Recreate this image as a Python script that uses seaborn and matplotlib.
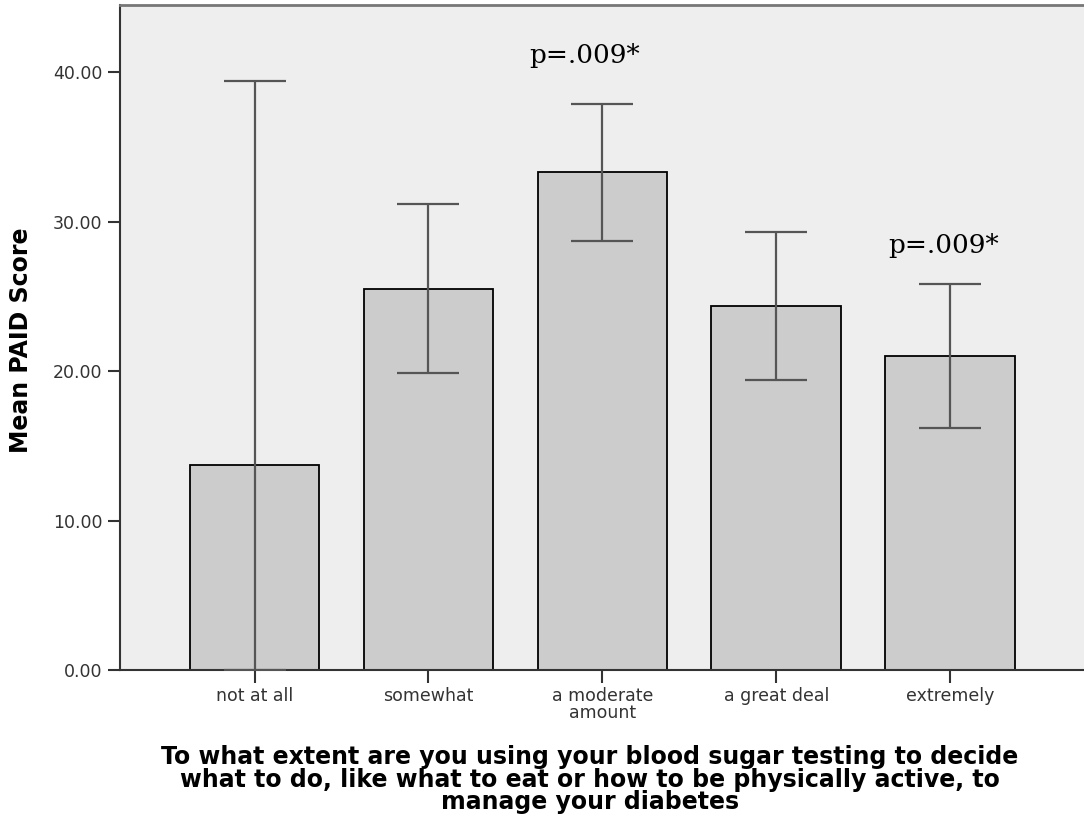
import matplotlib
matplotlib.use("Agg")
import matplotlib.pyplot as plt
import seaborn as sns
from matplotlib.ticker import FormatStrFormatter

categories = ["not at all", "somewhat", "a moderate\namount", "a great deal", "extremely"]
mean_paid = [13.7, 25.5, 33.3, 24.35, 21.0]
ci_lower = [0.0, 19.9, 28.7, 19.4, 16.2]
ci_upper = [39.4, 31.2, 37.9, 29.3, 25.8]
annot_labels = ["p=.009*", "p=.009*"]
annot_x = [1.9, 3.96]
annot_y = [41.1, 28.4]

sns.set_style("white")
plt.rcParams["font.family"] = ["DejaVu Sans"]

fig = plt.figure(figsize=(10.84, 8.24), dpi=100)
ax = fig.add_axes([0.1107, 0.1869, 0.8893, 0.807])

sns.barplot(x=categories, y=mean_paid, color="#cccccc", edgecolor="black",
            linewidth=1.3, width=0.745, saturation=1, ax=ax)

xs = list(range(len(categories)))
lower_err = [m - lo for m, lo in zip(mean_paid, ci_lower)]
upper_err = [hi - m for m, hi in zip(mean_paid, ci_upper)]
ax.errorbar(xs, mean_paid, yerr=[lower_err, upper_err], fmt="none",
            ecolor="#555555", elinewidth=1.6, capsize=22, capthick=1.6, zorder=5)

for lbl, x, y in zip(annot_labels, annot_x, annot_y):
    ax.text(x, y, lbl, ha="center", va="center", fontsize=19,
            family="DejaVu Serif", color="black")

ax.set_facecolor("#eeeeee")
ax.set_xlim(-0.774, 4.77)
ax.set_ylim(0, 44.5)
ax.set_yticks([0, 10, 20, 30, 40])
ax.yaxis.set_major_formatter(FormatStrFormatter("%.2f"))

for side in ["left", "bottom"]:
    ax.spines[side].set_color("#333333")
    ax.spines[side].set_linewidth(1.5)
ax.spines["right"].set_visible(False)
ax.spines["top"].set_color("#777777")
ax.spines["top"].set_linewidth(2)

ax.tick_params(axis="both", direction="out", length=9, width=1.5,
               color="#333333", labelsize=12.5, labelcolor="#333333", left=True, bottom=True)
for lab in ax.get_xticklabels():
    lab.set_linespacing(0.9)

ax.set_ylabel("Mean PAID Score", fontsize=17, fontweight="bold", color="black")
ax.yaxis.set_label_coords(-0.090, 0.496)
ax.set_xlabel("To what extent are you using your blood sugar testing to decide\n"
              "what to do, like what to eat or how to be physically active, to\n"
              "manage your diabetes", fontsize=17, fontweight="bold", color="black",
              linespacing=0.93)
ax.xaxis.set_label_coords(0.4876, -0.113)

fig.savefig("out.png", dpi=100)
plt.close(fig)
